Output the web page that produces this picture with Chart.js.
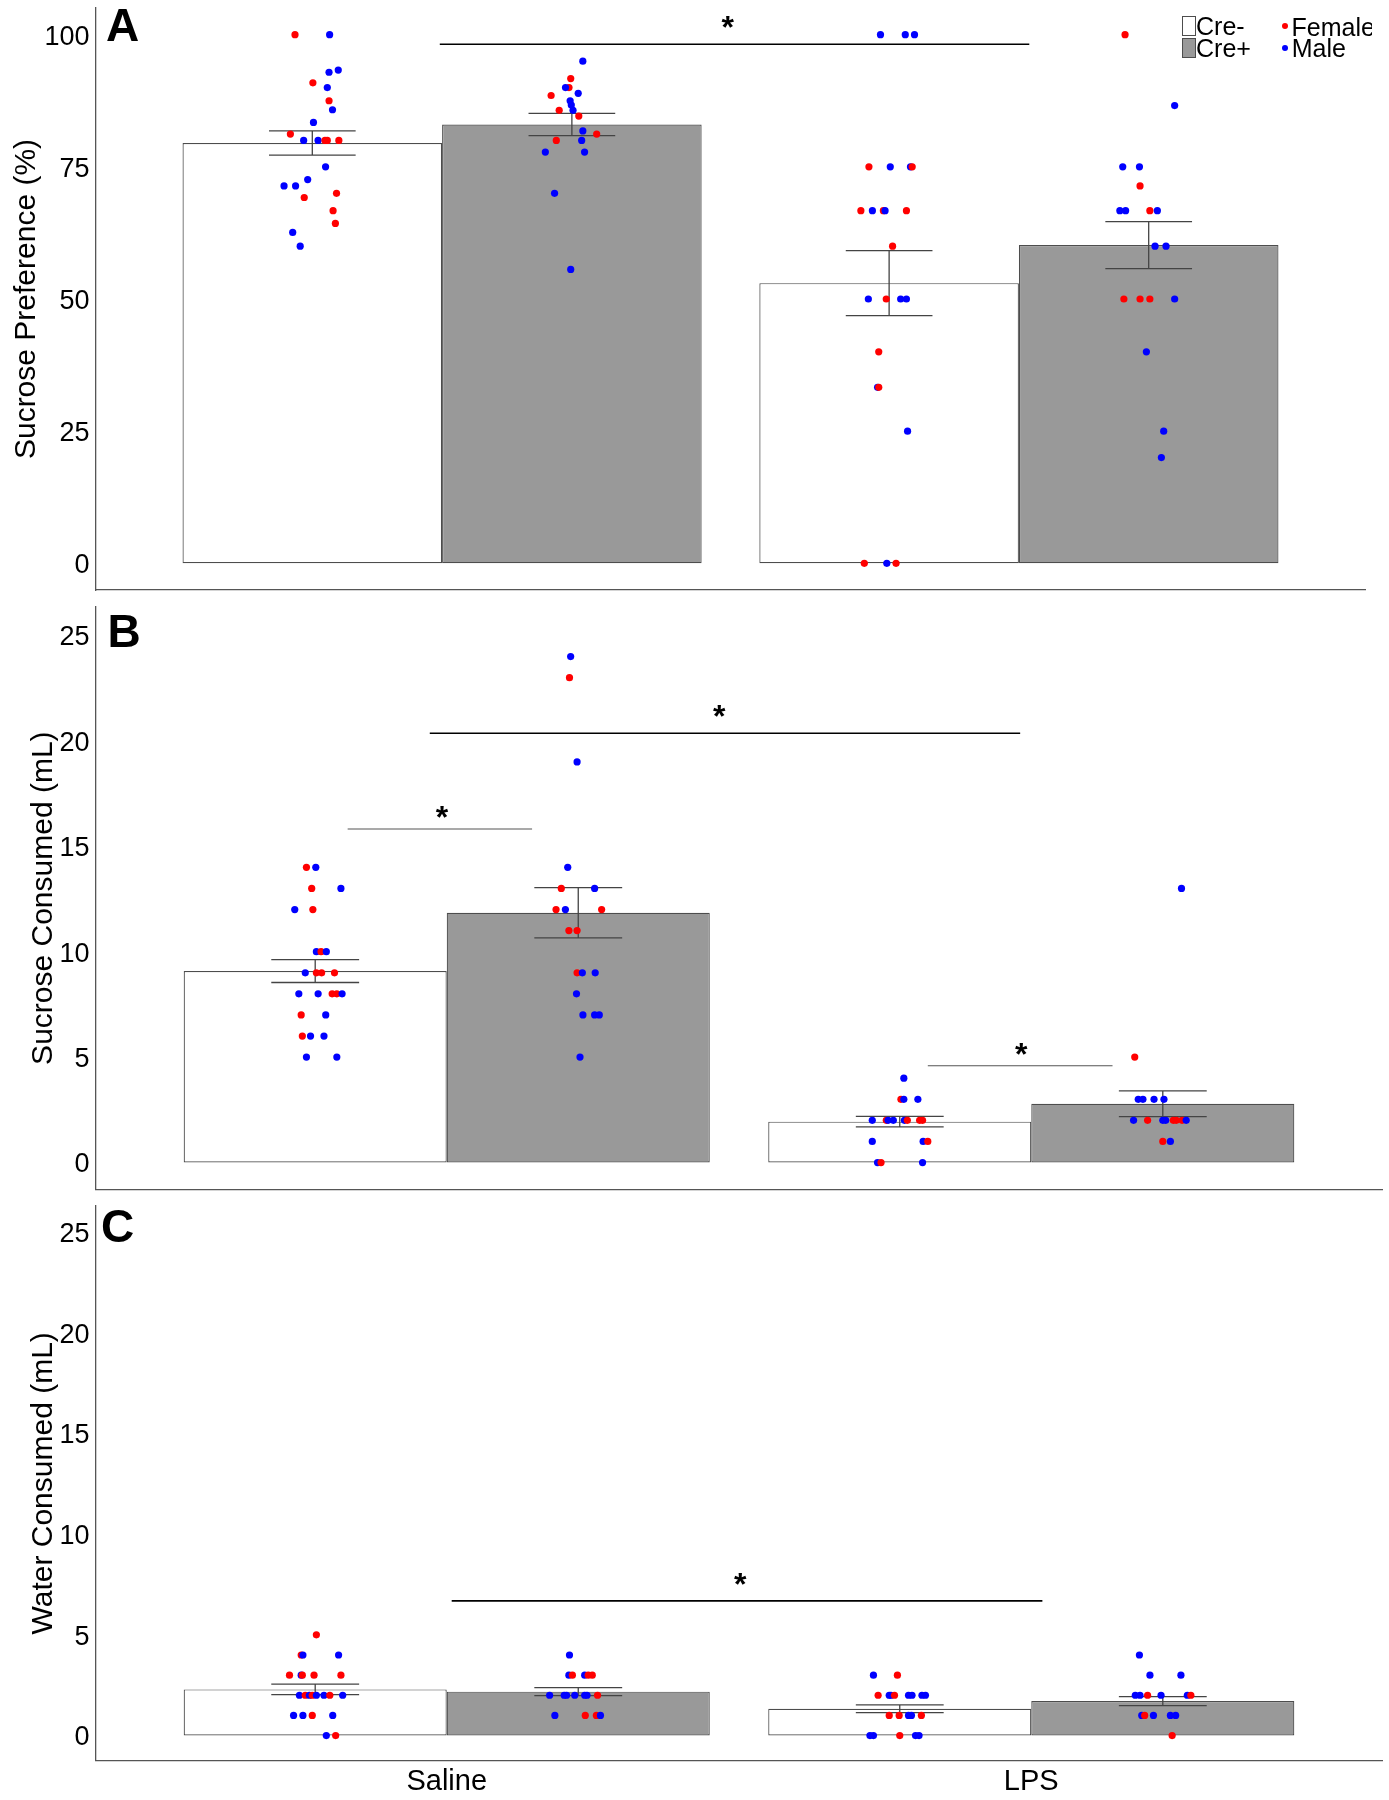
<!DOCTYPE html>
<html>
<head>
<meta charset="utf-8">
<script src="https://cdn.jsdelivr.net/npm/chart.js@4.4.0/dist/chart.umd.min.js"></script>
<style>
  body { margin: 0; background: #fff; width: 1389px; height: 1800px; position: relative; overflow: hidden;
         font-family: 'Liberation Sans', Arial, sans-serif; color: #000; }
  .panel { position: absolute; left: 0; }
  .letter { position: absolute; font-weight: bold; font-size: 46px; line-height: 46px; }
  .leg { position: absolute; font-size: 25px; line-height: 25px; white-space: nowrap; }
  .sw { position: absolute; width: 12px; height: 18px; border: 1px solid #4d4d4d; }
  .dot { position: absolute; width: 6px; height: 6px; border-radius: 50%; }
</style>
</head>
<body>
<div class="panel" style="top:0"><canvas id="chartA" width="1389" height="600"></canvas></div>
<div class="panel" style="top:600px"><canvas id="chartB" width="1389" height="595"></canvas></div>
<div class="panel" style="top:1195px"><canvas id="chartC" width="1389" height="605"></canvas></div>

<div class="letter" style="left:106px;top:2px">A</div>
<div class="letter" style="left:107.6px;top:608px">B</div>
<div class="letter" style="left:101px;top:1203px">C</div>

<div class="sw" style="left:1182px;top:16px;background:#fff"></div>
<div class="sw" style="left:1182px;top:38px;background:#999"></div>
<div class="leg" style="left:1196px;top:13.8px">Cre-</div>
<div class="leg" style="left:1196px;top:36.1px">Cre+</div>
<div class="dot" style="left:1281.6px;top:23px;background:#ff0000"></div>
<div class="dot" style="left:1281.6px;top:45.3px;background:#0000ff"></div>
<div class="leg" style="left:1291.6px;top:14.5px;width:80.4px;overflow:hidden">Female</div>
<div class="leg" style="left:1291.7px;top:36.3px">Male</div>

<script>
const groups = ['Saline', 'LPS'];

// A: sucrose preference (%)
const prefTicks = [0, 25, 50, 75, 100];
const prefMeanNeg = [79.5, 53.0];
const prefMeanPos = [83.0, 60.2];
const prefSemNeg = [2.3, 6.15];
const prefSemPos = [2.1, 4.45];
// points: [value, jitter, sex]
const prefNegSaline = [[100,-0.030,'F'],[100,0.030,'M'],[93.3,0.045,'M'],[92.9,0.029,'M'],[90.9,0.001,'F'],[90.0,0.026,'M'],[87.5,0.029,'F'],[85.8,0.035,'M'],[83.4,0.002,'M'],[81.2,-0.038,'F'],[80,-0.015,'M'],[80,0.010,'M'],[80,0.022,'F'],[80,0.026,'F'],[80,0.046,'F'],[75,0.023,'M'],[72.6,-0.008,'M'],[71.4,-0.049,'M'],[71.4,-0.029,'M'],[70.0,0.042,'F'],[69.2,-0.014,'F'],[66.7,0.036,'F'],[64.3,0.040,'F'],[62.6,-0.034,'M'],[60,-0.021,'M']];
const prefPosSaline = [[95.0,0.019,'M'],[91.7,-0.002,'F'],[90.0,-0.005,'F'],[90.0,-0.011,'M'],[88.9,0.011,'M'],[88.5,-0.036,'F'],[87.5,-0.003,'M'],[86.7,-0.001,'M'],[85.7,0.002,'M'],[85.7,-0.022,'F'],[84.6,0.012,'F'],[81.8,0.019,'M'],[81.2,0.043,'F'],[80,-0.027,'F'],[80,0.017,'M'],[77.8,-0.046,'M'],[77.8,0.022,'M'],[70,-0.030,'M'],[55.6,-0.002,'M']];
const prefNegLPS = [[100,-0.015,'M'],[100,0.028,'M'],[100,0.044,'M'],[75,-0.035,'F'],[75,0.002,'M'],[75,0.037,'M'],[75,0.040,'F'],[66.7,-0.049,'F'],[66.7,-0.029,'M'],[66.7,-0.010,'F'],[66.7,-0.007,'M'],[66.7,0.030,'F'],[60,0.006,'F'],[50,-0.036,'M'],[50,-0.005,'F'],[50,0.020,'M'],[50,0.030,'M'],[40,-0.018,'F'],[33.3,-0.020,'M'],[33.3,-0.018,'F'],[25,0.032,'M'],[0,-0.043,'F'],[0,-0.004,'M'],[0,0.012,'F']];
const prefPosLPS = [[100,-0.041,'F'],[86.6,0.045,'M'],[75,-0.045,'M'],[75,-0.016,'M'],[71.4,-0.015,'F'],[66.7,-0.050,'M'],[66.7,-0.040,'M'],[66.7,0.002,'F'],[66.7,0.015,'M'],[60,0.011,'M'],[60,0.030,'M'],[50,-0.043,'F'],[50,-0.015,'F'],[50,0.002,'F'],[50,0.045,'M'],[40,-0.004,'M'],[25,0.026,'M'],[20,0.022,'M']];
// brackets: [from, to, level, star x, star level, heavy]
const prefSig = [[0.996, 2.018, 98.2, 1.495, 102.8, 1]];

// B: sucrose consumed (mL)
const sucTicks = [0, 5, 10, 15, 20, 25];
const sucMeanNeg = [9.08, 1.94];
const sucMeanPos = [11.85, 2.79];
const sucSemNeg = [0.54, 0.245];
const sucSemPos = [1.19, 0.61];
const sucNegSaline = [[14,-0.015,'F'],[14,0.001,'M'],[13,-0.006,'F'],[13,0.044,'M'],[12,-0.035,'M'],[12,-0.004,'F'],[10,0.002,'M'],[10,0.010,'F'],[10,0.019,'M'],[9,-0.017,'M'],[9,0.002,'F'],[9,0.011,'F'],[9,0.033,'F'],[8,-0.028,'M'],[8,0.005,'M'],[8,0.029,'F'],[8,0.037,'F'],[8,0.046,'M'],[7,-0.024,'F'],[7,0.018,'M'],[6,-0.022,'F'],[6,-0.008,'M'],[6,0.015,'M'],[5,-0.015,'M'],[5,0.037,'M']];
const sucPosSaline = [[24,-0.013,'M'],[23,-0.015,'F'],[19,-0.002,'M'],[14,-0.018,'M'],[13,-0.029,'F'],[13,0.028,'M'],[12,-0.038,'F'],[12,-0.022,'M'],[12,0.040,'F'],[11,-0.016,'F'],[11,-0.002,'F'],[9,-0.002,'F'],[9,0.007,'M'],[9,0.029,'M'],[8,-0.003,'M'],[7,0.008,'M'],[7,0.028,'M'],[7,0.036,'M'],[5,0.003,'M']];
const sucNegLPS = [[4,0.007,'M'],[3,0.002,'F'],[3,0.007,'M'],[3,0.031,'M'],[2,-0.047,'M'],[2,-0.023,'F'],[2,-0.020,'M'],[2,-0.011,'M'],[2,0.008,'M'],[2,0.013,'F'],[2,0.034,'F'],[2,0.039,'F'],[1,-0.047,'M'],[1,0.040,'M'],[1,0.048,'F'],[0,-0.038,'M'],[0,-0.032,'F'],[0,0.039,'M']];
const sucPosLPS = [[13,0.032,'M'],[5,-0.048,'F'],[3,-0.042,'M'],[3,-0.034,'M'],[3,-0.015,'M'],[3,0.002,'M'],[2,-0.050,'M'],[2,-0.026,'F'],[2,0.000,'M'],[2,0.005,'M'],[2,0.018,'F'],[2,0.023,'F'],[2,0.033,'F'],[2,0.040,'M'],[1,0.000,'F'],[1,0.013,'M']];
const sucSig = [[0.971, 1.981, 20.36, 1.466, 21.5, 1], [0.8305, 1.146, 15.82, 0.992, 16.72, 0], [1.823, 2.139, 4.59, 1.983, 5.49, 0]];

// C: water consumed (mL)
const watTicks = [0, 5, 10, 15, 20, 25];
const watMeanNeg = [2.29, 1.33];
const watMeanPos = [2.18, 1.71];
const watSemNeg = [0.26, 0.19];
const watSemPos = [0.2, 0.22];
const watNegSaline = [[5,0.002,'F'],[4,-0.024,'F'],[4,-0.021,'M'],[4,0.040,'M'],[3,-0.044,'F'],[3,-0.024,'M'],[3,-0.022,'F'],[3,-0.002,'F'],[3,0.044,'F'],[2,-0.027,'M'],[2,-0.017,'F'],[2,-0.010,'M'],[2,-0.005,'F'],[2,0.002,'M'],[2,0.015,'M'],[2,0.025,'F'],[2,0.047,'M'],[1,-0.037,'M'],[1,-0.021,'M'],[1,-0.005,'F'],[1,0.030,'M'],[0,0.019,'M'],[0,0.035,'F']];
const watPosSaline = [[4,-0.015,'M'],[3,-0.016,'M'],[3,-0.010,'F'],[3,0.011,'M'],[3,0.017,'F'],[3,0.024,'F'],[2,-0.049,'M'],[2,-0.024,'M'],[2,-0.020,'M'],[2,-0.006,'M'],[2,0.011,'M'],[2,0.015,'M'],[2,0.033,'F'],[1,-0.040,'M'],[1,0.012,'F'],[1,0.031,'F'],[1,0.038,'M']];
const watNegLPS = [[3,-0.045,'M'],[3,-0.004,'F'],[2,-0.037,'F'],[2,-0.018,'M'],[2,-0.015,'M'],[2,-0.009,'F'],[2,0.015,'M'],[2,0.021,'M'],[2,0.038,'M'],[2,0.044,'M'],[1,-0.018,'F'],[1,-0.001,'F'],[1,0.015,'M'],[1,0.020,'M'],[1,0.037,'F'],[0,-0.051,'M'],[0,-0.045,'M'],[0,0.000,'F'],[0,0.027,'M'],[0,0.033,'M']];
const watPosLPS = [[4,-0.040,'M'],[3,-0.022,'M'],[3,0.031,'M'],[2,-0.047,'M'],[2,-0.039,'M'],[2,-0.026,'F'],[2,-0.003,'M'],[2,0.042,'M'],[2,0.048,'F'],[1,-0.036,'M'],[1,-0.031,'F'],[1,-0.016,'M'],[1,0.013,'M'],[1,0.022,'M'],[0,0.016,'F']];
const watSig = [[1.0085, 2.019, 6.69, 1.502, 7.88, 1]];

const FONT = "'Liberation Sans', Arial, sans-serif";
Chart.defaults.font.family = FONT;
Chart.defaults.color = '#000';

// mean +- sem whiskers on top of each bar
const errorBars = {
  id: 'errorBars',
  afterDatasetDraw(chart, args) {
    const ds = chart.data.datasets[args.index];
    if (!ds.sem) return;
    const y = chart.scales.y, ctx = chart.ctx;
    ctx.save();
    ctx.strokeStyle = '#444';
    ctx.lineWidth = 1.3;
    args.meta.data.forEach((bar, i) => {
      const m = ds.data[i].y, s = ds.sem[i];
      const hi = y.getPixelForValue(m + s), lo = y.getPixelForValue(m - s);
      const half = bar.width * 0.167;
      ctx.beginPath();
      ctx.moveTo(bar.x, hi); ctx.lineTo(bar.x, lo);
      ctx.moveTo(bar.x - half, hi); ctx.lineTo(bar.x + half, hi);
      ctx.moveTo(bar.x - half, lo); ctx.lineTo(bar.x + half, lo);
      ctx.stroke();
    });
    ctx.restore();
  }
};

const sigPlugin = {
  id: 'sig',
  afterDatasetsDraw(chart, args, opts) {
    const {ctx, scales: {x, y}} = chart;
    ctx.save();
    (opts.brackets || []).forEach(([x1, x2, lvl, sx, sy, heavy]) => {
      const py = y.getPixelForValue(lvl);
      ctx.beginPath();
      ctx.strokeStyle = heavy ? '#000' : '#555';
      ctx.lineWidth = heavy ? 1.6 : 1.2;
      ctx.moveTo(x.getPixelForValue(x1), py);
      ctx.lineTo(x.getPixelForValue(x2), py);
      ctx.stroke();
      ctx.fillStyle = '#000';
      ctx.font = 'bold 32px ' + FONT;
      ctx.textAlign = 'center';
      ctx.textBaseline = 'alphabetic';
      ctx.fillText('*', x.getPixelForValue(sx), y.getPixelForValue(sy) + 0.57 * 32);
    });
    ctx.restore();
  }
};

function makePanel(p) {
  const pts = [], cols = [];
  p.points.forEach((arr, k) => {
    const cx = Math.floor(k / 2) + 1 + (k % 2 ? 0.225 : -0.225);
    arr.forEach(([v, j, s]) => {
      pts.push({x: cx + j, y: v});
      cols.push(s === 'F' ? '#ff0000' : '#0000ff');
    });
  });
  const bar = (label, means, sem, fill) => ({
    label, sem, backgroundColor: fill, borderColor: '#4d4d4d', borderWidth: 1.2, borderSkipped: false,
    categoryPercentage: 0.9, barPercentage: 1, order: 2,
    data: groups.map((g, i) => ({x: i + 1, y: means[i]}))
  });
  const border = {display: true, color: '#555', width: 1.3};
  new Chart(document.getElementById(p.id), {
    type: 'bar',
    data: {
      datasets: [
        bar('Cre-', p.meanNeg, p.semNeg, '#ffffff'),
        bar('Cre+', p.meanPos, p.semPos, '#999999'),
        {type: 'scatter', label: 'mice', data: pts, backgroundColor: cols, pointBackgroundColor: cols,
         pointBorderWidth: 0, pointRadius: 3.6, order: 0}
      ]
    },
    options: {
      responsive: false, animation: false, events: [],
      layout: {padding: p.pad},
      plugins: {legend: {display: false}, tooltip: {enabled: false}, sig: {brackets: p.sig}},
      scales: {
        x: {
          type: 'linear', min: 0.4, max: 2.6, offset: false,
          grid: {display: false, drawTicks: false}, border,
          afterBuildTicks: s => { s.ticks = groups.map((g, i) => ({value: i + 1})); },
          ticks: {display: p.showX, padding: 4, font: {size: 29}, color: '#000', maxRotation: 0, autoSkip: false,
                  callback: v => groups[v - 1]},
          afterFit: s => { s.height = p.xHeight; s.paddingLeft = 0; s.paddingRight = 0; s.paddingTop = 0; s.paddingBottom = 0; }
        },
        y: {
          min: p.yMin, max: p.yMax,
          grid: {display: false, drawTicks: false}, border,
          afterBuildTicks: s => { s.ticks = p.ticks.map(v => ({value: v})); },
          ticks: {padding: 6.5, labelOffset: 2.5, font: {size: 27}, color: '#000', callback: v => String(v)},
          title: {display: true, text: p.title, font: {size: 30}, color: '#000', padding: {top: p.titlePad, bottom: 0}},
          afterFit: s => { s.width = 96; s.paddingTop = 0; s.paddingBottom = 0; s.paddingLeft = 0; s.paddingRight = 0; }
        }
      }
    },
    plugins: [errorBars, sigPlugin]
  });
}

makePanel({
  id: 'chartA', pad: {top: 8, right: 24, bottom: 10, left: 0}, xHeight: 0, showX: false,
  yMin: -5.05, yMax: 105.05, ticks: prefTicks, title: 'Sucrose Preference (%)', titlePad: 9,
  meanNeg: prefMeanNeg, meanPos: prefMeanPos, semNeg: prefSemNeg, semPos: prefSemPos,
  points: [prefNegSaline, prefPosSaline, prefNegLPS, prefPosLPS], sig: prefSig
});
makePanel({
  id: 'chartB', pad: {top: 7, right: 7, bottom: 5.7, left: 0}, xHeight: 0, showX: false,
  yMin: -1.27, yMax: 26.35, ticks: sucTicks, title: 'Sucrose Consumed (mL)', titlePad: 25.5,
  meanNeg: sucMeanNeg, meanPos: sucMeanPos, semNeg: sucSemNeg, semPos: sucSemPos,
  points: [sucNegSaline, sucPosSaline, sucNegLPS, sucPosLPS], sig: sucSig
});
makePanel({
  id: 'chartC', pad: {top: 11, right: 7, bottom: 0, left: 0}, xHeight: 39.3, showX: true,
  yMin: -1.25, yMax: 26.3, ticks: watTicks, title: 'Water Consumed (mL)', titlePad: 25.5,
  meanNeg: watMeanNeg, meanPos: watMeanPos, semNeg: watSemNeg, semPos: watSemPos,
  points: [watNegSaline, watPosSaline, watNegLPS, watPosLPS], sig: watSig
});
</script>
</body>
</html>
